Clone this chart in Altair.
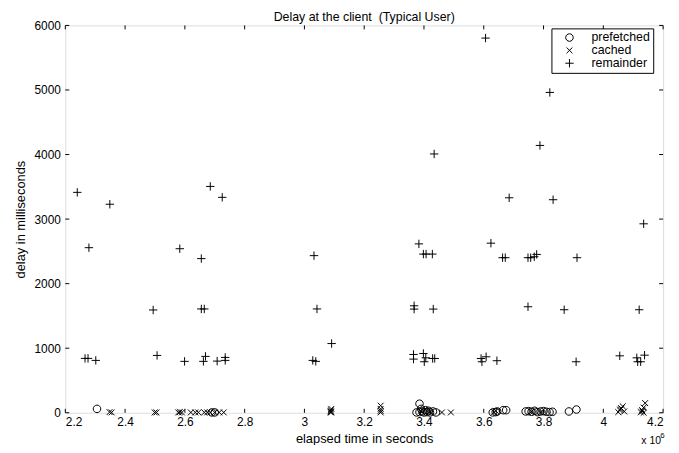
import altair as alt
import pandas as pd

# ---- data (x in units of 10^6 seconds, y in milliseconds) ----
prefetched_x = [2.306, 2.69, 2.70, 3.375, 3.385, 3.385, 3.39, 3.395, 3.40, 3.405, 3.41, 3.415,
                3.42, 3.43, 3.44, 3.63, 3.64, 3.645, 3.665, 3.675, 3.74, 3.75, 3.76, 3.77,
                3.78, 3.79, 3.80, 3.81, 3.82, 3.83, 3.885, 3.91]
prefetched_y = [60, 5, 5, 5, 140, 10, 60, 20, 5, 40, 10, 30,
                5, 20, 5, 5, 10, 20, 40, 40, 20, 25, 15, 30,
                10, 20, 25, 15, 10, 15, 20, 50]

cached_x = [2.348, 2.355, 2.499, 2.505, 2.578, 2.583, 2.59, 2.62, 2.635, 2.645, 2.665, 2.675,
            2.685, 2.70, 2.715, 2.73, 3.088, 3.088, 3.088, 3.09, 3.09, 3.255, 3.255, 3.255,
            3.255, 3.39, 3.42, 3.46, 3.49, 3.635, 3.64, 3.76, 3.79, 4.05, 4.055, 4.06,
            4.065, 4.07, 4.058, 4.125, 4.13, 4.135, 4.14, 4.13, 4.135]
cached_y = [10, 5, 5, 5, 5, 10, 5, 5, 5, 5, 5, 5,
            5, 5, 5, 5, 5, 20, 40, 60, 10, 5, 30, 60,
            110, 30, 15, 5, 5, 10, 30, 20, 10, 10, 40, 70,
            100, 20, 55, 10, 40, 80, 150, 20, 0]

remainder_x = [2.240, 2.279, 2.349, 2.266, 2.276, 2.302, 2.494, 2.507, 2.583, 2.599,
               2.655, 2.655, 2.665, 2.669, 2.662, 2.685, 2.708, 2.735, 2.725, 2.735,
               3.032, 3.028, 3.038, 3.042, 3.091,
               3.606, 3.821, 3.788, 3.434, 3.685, 3.832, 4.135, 3.383, 3.624,
               3.398, 3.407, 3.428, 3.663, 3.672, 3.748, 3.757, 3.769, 3.777, 3.912,
               3.367, 3.367, 3.431, 3.748, 3.869, 4.120,
               3.365, 3.365, 3.398, 3.401, 3.406, 3.429, 3.436,
               3.591, 3.594, 3.608, 3.644, 3.909, 4.055, 4.112, 4.115, 4.125, 4.138]
remainder_y = [3414, 2557, 3230, 842, 842, 811, 1592, 888, 2541, 796,
               2388, 1608, 1608, 873, 796, 3506, 800, 811, 3337, 857,
               2434, 811, 796, 1608, 1072,
               5804, 4962, 4141, 4009, 3330, 3300, 2927, 2616, 2627,
               2458, 2458, 2458, 2402, 2402, 2402, 2402, 2417, 2453, 2402,
               1657, 1606, 1606, 1642, 1596, 1596,
               831, 903, 918, 790, 851, 841, 841,
               841, 790, 867, 806, 790, 882, 851, 790, 790, 892]

series_names = ["prefetched", "cached", "remainder"]
x_ticks = [2.2, 2.4, 2.6, 2.8, 3.0, 3.2, 3.4, 3.6, 3.8, 4.0, 4.2]
y_ticks = [0, 1000, 2000, 3000, 4000, 5000, 6000]

title_text = "Delay at the client \u00a0(Typical User)"
x_title = "elapsed time in seconds"
y_title = "delay in milliseconds"

# ---- tables ----
rows = []
for name, xs, ys in [("prefetched", prefetched_x, prefetched_y),
                     ("cached", cached_x, cached_y),
                     ("remainder", remainder_x, remainder_y)]:
    for a, b in zip(xs, ys):
        rows.append({"t": a, "delay": b, "series": name})
points = pd.DataFrame(rows)
xt = pd.DataFrame({"t": x_ticks})
yt = pd.DataFrame({"delay": y_ticks})

W, H = 605, 392
FONT = "Liberation Sans"

xscale = alt.Scale(domain=[2.2, 4.2], nice=False, zero=False)
yscale = alt.Scale(domain=[0, 6000], nice=False)

CIRCLE = "M-0.9,0A0.9,0.9,0,1,1,0.9,0A0.9,0.9,0,1,1,-0.9,0Z"
XMARK = "M-0.7,-0.7L0.7,0.7M-0.7,0.7L0.7,-0.7"
PLUS = "M-1,0L1,0M0,-1L0,1"

pts = alt.Chart(points).mark_point(filled=False, color="black", strokeWidth=1, size=72, opacity=1).encode(
    x=alt.X("t:Q", scale=xscale,
            axis=alt.Axis(values=x_ticks, format="~g", title=x_title, grid=False, ticks=False,
                          domain=False, labelPadding=4, titleX=W / 2, titleY=26,
                          titleBaseline="middle", titleFontWeight="normal",
                          labelFontSize=12, titleFontSize=13)),
    y=alt.Y("delay:Q", scale=yscale,
            axis=alt.Axis(values=y_ticks, format="d", title=y_title, grid=False, ticks=False,
                          domain=False, labelPadding=5, titleX=-45, titleY=H / 2,
                          titleBaseline="middle", titleFontWeight="normal",
                          labelFontSize=12, titleFontSize=13)),
    shape=alt.Shape("series:N",
                    scale=alt.Scale(domain=series_names, range=[CIRCLE, XMARK, PLUS]),
                    legend=alt.Legend(title=None, orient="none", legendX=492, legendY=3,
                                      strokeColor="black", fillColor="white", padding=3,
                                      symbolOffset=9, labelOffset=16, labelFontSize=12.5,
                                      rowPadding=0, symbolSize=72, symbolStrokeColor="black",
                                      symbolStrokeWidth=1, symbolFillColor="transparent",
                                      labelFont=FONT, labelColor="black")),
)

tick_len = 4
bottom_ticks = alt.Chart(xt).mark_rule(color="black").encode(
    x=alt.X("t:Q", scale=xscale), y=alt.value(H), y2=alt.value(H - tick_len))
top_ticks = alt.Chart(xt).mark_rule(color="black").encode(
    x=alt.X("t:Q", scale=xscale), y=alt.value(0), y2=alt.value(tick_len))
left_ticks = alt.Chart(yt).mark_rule(color="black").encode(
    y=alt.Y("delay:Q", scale=yscale), x=alt.value(0), x2=alt.value(tick_len))
right_ticks = alt.Chart(yt).mark_rule(color="black").encode(
    y=alt.Y("delay:Q", scale=yscale), x=alt.value(W), x2=alt.value(W - tick_len))

title_mark = alt.Chart(pd.DataFrame({"txt": [title_text]})).mark_text(
    font=FONT, fontSize=12.5, color="black", baseline="middle", align="center").encode(
    text="txt:N", x=alt.value(W / 2), y=alt.value(-8))

exp_base = alt.Chart(pd.DataFrame({"txt": ["x 10"]})).mark_text(
    font=FONT, fontSize=10.5, color="black", baseline="middle", align="left").encode(
    text="txt:N", x=alt.value(583), y=alt.value(421))
exp_sup = alt.Chart(pd.DataFrame({"txt": ["6"]})).mark_text(
    font=FONT, fontSize=8, color="black", baseline="middle", align="left").encode(
    text="txt:N", x=alt.value(602), y=alt.value(416))

chart = alt.layer(bottom_ticks, top_ticks, left_ticks, right_ticks, pts,
                  title_mark, exp_base, exp_sup).properties(
    width=W, height=H,
    autosize=alt.AutoSizeParams(type="none"),
    padding={"left": 58, "top": 15, "right": 8, "bottom": 30},
).configure_view(stroke="black", strokeWidth=1).configure_axis(
    labelFont=FONT, titleFont=FONT, labelColor="black", titleColor="black",
).configure(background="white")

chart.save("out.html", embed_options={"renderer": "svg", "actions": False})
